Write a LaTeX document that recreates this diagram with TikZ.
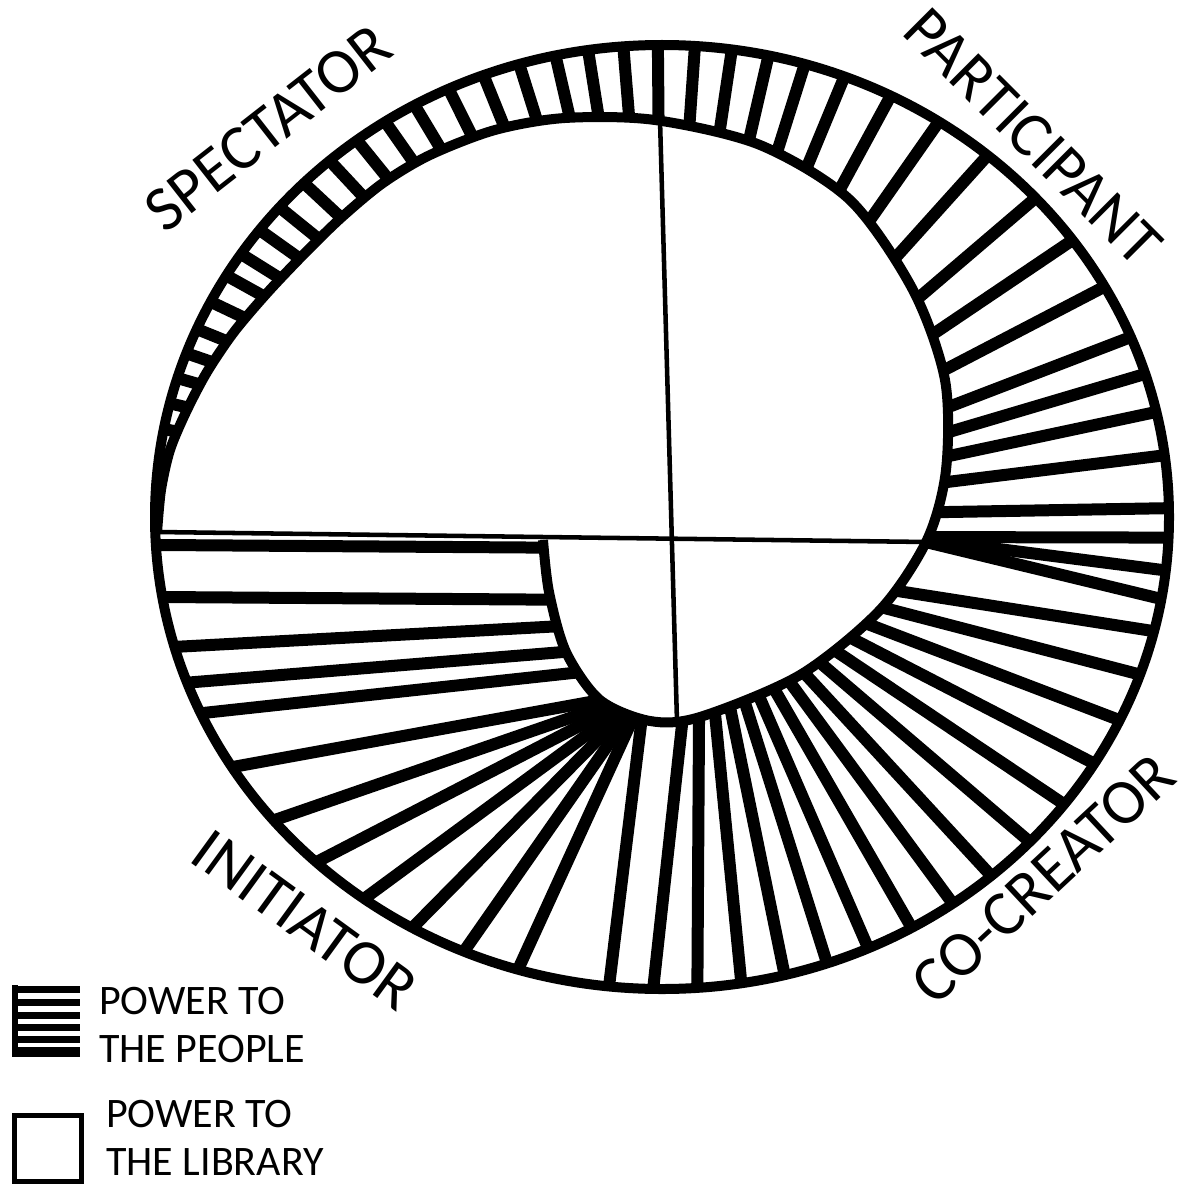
\documentclass[tikz,border=0pt]{standalone}
\usepackage{fontspec}
\setmainfont{Carlito}

\tikzset{
  rim/.style={line width=7.5pt, line join=round},
  bar/.style={line width=9pt, line cap=butt, shorten >=-22pt},
  axisline/.style={line width=3.4pt},
  legbar/.style={line width=5.25pt},
  lab/.style={inner sep=0pt, font=\fontsize{48}{56}\selectfont},
  legtxt/.style={anchor=north west, inner sep=0pt, align=left, font=\fontsize{31.5}{36}\selectfont},
  outerrim/.style={insert path={(662,517) ellipse [x radius=507, y radius=472]}},
  innerrim/.style={insert path={plot[smooth] coordinates {(157,533) (161,490) (170,450) (186,412) (207,372) (234,332) (268,292) (306,252) (342,217) (383,183) (430,155) (495,130) (565,118) (655,120) (760,145) (850,200) (913,290) (945,380) (946,470) (927,540) (880,610) (800,675) (700,717) (650,721) (600,700) (566,652) (549,592) (543,540)}}}
}

\begin{document}
\begin{tikzpicture}[x=0.75pt,y=0.75pt,yscale=-1,xscale=1]
    %set diagram to 1188 x 1184
    \path[fill=white] (0,0) rectangle (1188,1184);

    %Shape: Ring bars, clipped to the outer rim
    \begin{scope}
    \clip [outerrim];
    % radial bars
    \foreach \a in {190,193,196,199,202,205.5,209,212,215.5,219,223,227,231,235,239,243.5,248,252.5,257,261,265.3,269.5,274,278.5,283,287.5,292.5,298.5,305,312,319.5,326,332.5,339,343.5,348,353,359}
        \draw [bar] (662,517) -- ({662+560*cos(\a)},{517+560*sin(\a)});
    % fan at the right
    \foreach \a in {2.5,6.5,10}
        \draw [bar] (905,537) -- ({662+507*cos(\a)},{517+472*sin(\a)});
    % bottom bars
    \foreach \a in {14,19.5,25.5,31.5,37.5,43.5,49.5,55,60.5,66,71,76,81,86,91}
        \draw [bar] (700,560) -- ({662+507*cos(\a)},{517+472*sin(\a)});
    % lower left fan
    \foreach \a in {96,106.5,113,119.5,126,133,140,148}
        \draw [bar] (645,692) -- ({662+507*cos(\a)},{517+472*sin(\a)});
    % flat bars on the left
    \foreach \ay/\ox/\oy in {670/203/713, 649/183/683, 624/173/647, 600/160/597, 548/160/545}
        \draw [bar] (600,\ay) -- (\ox,\oy);
    \end{scope}

    %Shape: inner white field
    \fill [white] [innerrim] -- cycle;
    %Shape: rims
    \draw [rim] [outerrim];
    \draw [rim] [innerrim];
    %Straight Lines: quarters
    \draw [axisline] (157,532) -- (927,542);
    \draw [axisline] (660,120) -- (677,722);

    % Text Node
    \node [lab, rotate=38] (spectator) at (268,128) {SPECTATOR};
    % Text Node
    \node [lab, rotate=-45] (participant) at (1033,137) {PARTICIPANT};
    % Text Node
    \node [lab, rotate=43] (cocreator) at (1043,879) {CO-CREATOR};
    % Text Node
    \node [lab, rotate=-36] (initiator) at (305,920) {INITIATOR};

    %Shape: legend, striped box
    \draw [line width=4.5pt] (15,985) -- (15,1057);
    \foreach \y in {989,1002,1015,1027,1039}
        \draw [legbar] (12,\y) -- (80,\y);
    \draw [line width=7.5pt] (12,1052) -- (80,1052);
    %Shape: legend, empty box
    \draw [line width=3.75pt] (14,1115) rectangle (81,1181);

    % Text Node
    \node [legtxt] (people) at (99,987) {POWER TO\\THE PEOPLE};
    % Text Node
    \node [legtxt] (library) at (106,1100) {POWER TO\\THE LIBRARY};
\end{tikzpicture}
\end{document}
